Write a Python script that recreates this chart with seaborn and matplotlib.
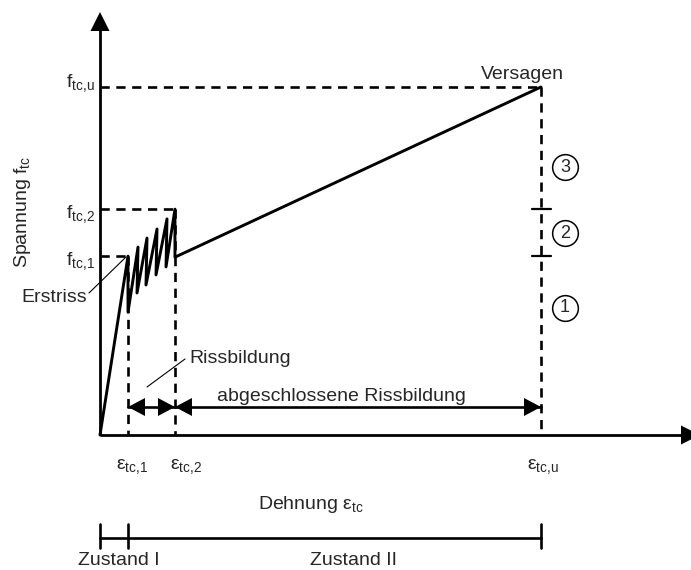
import matplotlib
matplotlib.use("Agg")
import matplotlib.pyplot as plt
import seaborn as sns

# ---------------- data (schematic units: eps_tc,u = 10, f_tc,u = 10) ----------------
strain = [0.0, 0.635, 0.635, 0.862, 0.839, 1.066, 1.043, 1.293, 1.270, 1.519, 1.497, 1.70, 1.70, 10.0]
stress = [0.0, 5.14, 3.53, 5.40, 4.08, 5.66, 4.31, 5.92, 4.60, 6.21, 4.83, 6.49, 5.11, 10.0]
eps_marks = [0.635, 1.70, 10.0]          # eps_tc,1  eps_tc,2  eps_tc,u
f_marks = [5.14, 6.49, 10.0]             # f_tc,1    f_tc,2    f_tc,u
eps_labels = [r"ε$_{\mathrm{tc{,}1}}$", r"ε$_{\mathrm{tc{,}2}}$", r"ε$_{\mathrm{tc{,}u}}$"]
f_labels = [r"f$_{\mathrm{tc{,}1}}$", r"f$_{\mathrm{tc{,}2}}$", r"f$_{\mathrm{tc{,}u}}$"]
stage_numbers = ["1", "2", "3"]
zone_labels = ["Zustand I", "Zustand II"]

# ---------------- style ----------------
sns.set_style("white")
plt.rcParams["font.family"] = ["Liberation Sans", "DejaVu Sans"]
plt.rcParams["mathtext.fontset"] = "custom"
plt.rcParams["mathtext.rm"] = "Liberation Sans"
plt.rcParams["mathtext.it"] = "Liberation Sans:italic"
plt.rcParams["mathtext.bf"] = "Liberation Sans:bold"

FS = 14
SX, SY = 44.1, 34.8          # px per unit
OX, OY = 100, 435            # origin in px


def X(px):
    return (px - OX) / SX


def Y(py):
    return (OY - py) / SY


fig = plt.figure(figsize=(6.91, 5.70), dpi=100)
ax = fig.add_axes([0, 0, 1, 1])
ax.set_xlim(X(0), X(691))
ax.set_ylim(Y(570), Y(0))
ax.axis("off")

K = "black"


def head(tx, ty, direction, L=18, W=18):
    """filled arrow head, tip at data (tx,ty); size in px"""
    px = OX + tx * SX
    py = OY - ty * SY
    if direction == "up":
        pts = [(px, py), (px - W / 2, py + L), (px + W / 2, py + L)]
    elif direction == "right":
        pts = [(px, py), (px - L, py - W / 2), (px - L, py + W / 2)]
    else:  # left
        pts = [(px, py), (px + L, py - W / 2), (px + L, py + W / 2)]
    ax.fill([X(p[0]) for p in pts], [Y(p[1]) for p in pts], color=K, lw=0, zorder=5)


# axes with arrows
ax.plot([0, 0], [0, Y(30)], color=K, lw=2.0, solid_capstyle="butt")
head(0, Y(12), "up", L=19, W=19)
ax.plot([0, X(682)], [0, 0], color=K, lw=2.0, solid_capstyle="butt")
head(X(700), 0, "right", L=19, W=19)

# dashed guide lines
dash = (0, (3.5, 2.5))
for e, f in zip(eps_marks, f_marks):
    ax.plot([0, e], [f, f], color=K, lw=1.9, linestyle=dash)
    ax.plot([e, e], [f, 0], color=K, lw=1.9, linestyle=dash)

# main stress-strain curve
sns.lineplot(x=strain, y=stress, sort=False, estimator=None, color=K, lw=2.1, ax=ax,
             zorder=4)

# ticks on failure line and circled stage numbers
eu = eps_marks[2]
for f in f_marks[:2]:
    ax.plot([eu - 9 / SX, eu + 10 / SX], [f, f], color=K, lw=1.6)
for num, py in zip(stage_numbers, [308, 233, 167]):
    ax.plot([eu + 24 / SX], [Y(py)], "o", ms=18.5, mfc="white", mec=K, mew=1.1)
    ax.text(eu + 24 / SX, Y(py), num, fontsize=FS - 1, ha="center", va="center")

# axis value labels
for lab, f, by in zip(f_labels, f_marks, [265, 218, 87]):
    ax.text(X(95), Y(by), lab, fontsize=FS, ha="right", va="baseline")
for lab, lx in zip(eps_labels, [116, 170, 527]):
    ax.text(X(lx), Y(469), lab, fontsize=FS, ha="left", va="baseline")

# axis titles
ax.text(X(27), Y(212), r"Spannung f$_{\mathrm{tc}}$", fontsize=FS, rotation=90,
        rotation_mode="anchor", ha="center", va="baseline")
ax.text(X(258), Y(509), r"Dehnung ε$_{\mathrm{tc}}$", fontsize=FS, ha="left", va="baseline")

# annotations
ax.text(X(522), Y(79), "Versagen", fontsize=FS, ha="center", va="baseline")
ax.text(X(21), Y(302), "Erstriss", fontsize=FS, ha="left", va="baseline")
ax.plot([X(89), X(126)], [Y(293), Y(257)], color=K, lw=0.8)
ax.text(X(189), Y(363), "Rissbildung", fontsize=FS, ha="left", va="baseline")
ax.plot([X(147), X(185)], [Y(387), Y(359)], color=K, lw=0.8)
ax.text(X(217), Y(401), "abgeschlossene Rissbildung", fontsize=FS, ha="left", va="baseline")

# dimension arrows
ya = Y(407)
ax.plot([eps_marks[0], eps_marks[2]], [ya, ya], color=K, lw=1.9)
head(eps_marks[0], ya, "left", L=17, W=18)
head(eps_marks[1], ya, "right", L=17, W=18)
head(eps_marks[1], ya, "left", L=17, W=18)
head(eps_marks[2], ya, "right", L=17, W=18)

# state bar (Zustand I / II)
yb = Y(538)
ax.plot([0, eps_marks[2]], [yb, yb], color=K, lw=1.9)
for xt in [0, eps_marks[0], eps_marks[2]]:
    ax.plot([xt, xt], [Y(524), Y(548)], color=K, lw=1.9)
ax.text(X(78), Y(565), zone_labels[0], fontsize=FS, ha="left", va="baseline")
ax.text(X(310), Y(565), zone_labels[1], fontsize=FS, ha="left", va="baseline")

fig.savefig("out.png", dpi=100)
